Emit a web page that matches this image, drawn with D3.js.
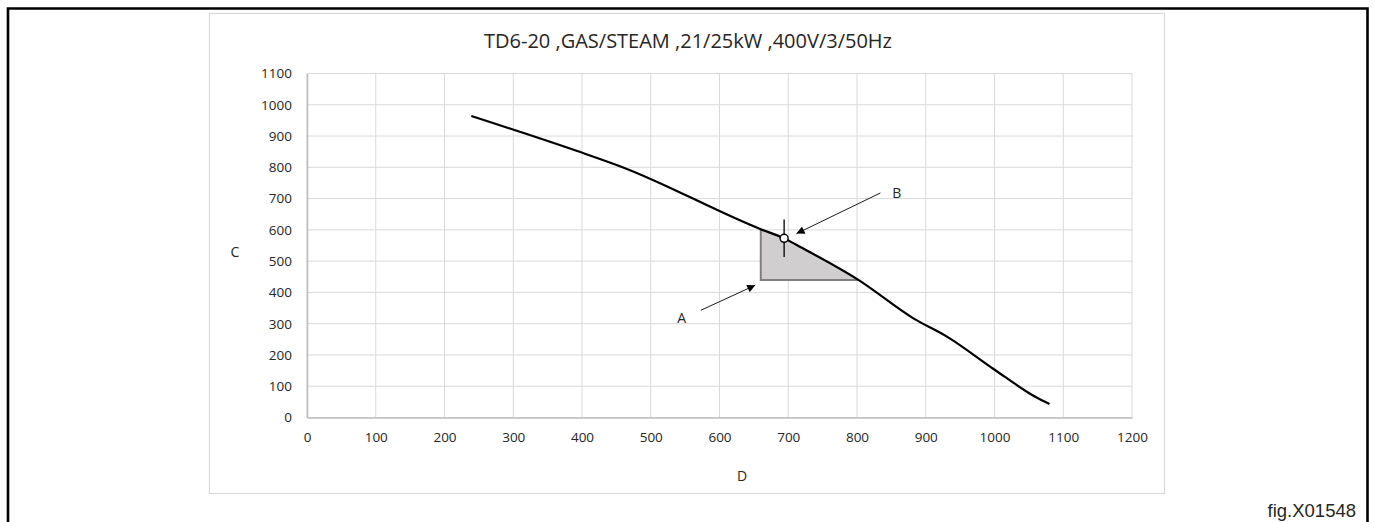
<!DOCTYPE html>
<html>
<head>
<meta charset="utf-8">
<script src="https://cdn.jsdelivr.net/npm/d3@7"></script>
<style>
  body { margin: 0; background: #fff; }
  text { font-family: "Open Sans", sans-serif; fill: #262626; }
</style>
</head>
<body>
<div id="chart"></div>
<script>
const w = 1374;
const h = 522;

const title = "TD6-20 ,GAS/STEAM ,21/25kW ,400V/3/50Hz";
const xTicks = [0, 100, 200, 300, 400, 500, 600, 700, 800, 900, 1000, 1100, 1200];
const yTicks = [0, 100, 200, 300, 400, 500, 600, 700, 800, 900, 1000, 1100];

// curve
const curveD = [239, 393, 457, 660, 694, 711, 802, 882, 932, 998, 1062, 1080];
const curveC = [964, 852, 802, 602, 573, 553, 440, 317, 257, 156, 63, 43];

// shaded working area (A) corners, top edge follows the curve
const shadeD = [660, 660, 802];
const shadeC = [602, 440, 440];

// operating point (B)
const pointD = 694;
const pointC = 573;

const labels = [
  { name: "A", from: [573, 343], to: [652, 423], at: [545, 318] },
  { name: "B", from: [834, 718], to: [712, 588], at: [858, 718] }
];

const svg = d3.select("#chart").append("svg")
  .attr("width", w).attr("height", h);

// outer page frame
svg.append("path")
  .attr("d", "M8,530 L8,8.5 L1367.5,8.5 L1367.5,530")
  .attr("fill", "none").attr("stroke", "#000").attr("stroke-width", 2.6);

// chart box
svg.append("rect")
  .attr("x", 209.5).attr("y", 13.5).attr("width", 955).attr("height", 480)
  .attr("fill", "#fff").attr("stroke", "#d9d9d9").attr("stroke-width", 1.2);

const x = d3.scaleLinear().domain([0, 1200]).range([307, 1132]);
const y = d3.scaleLinear().domain([0, 1100]).range([417.5, 73.5]);

// grid
const grid = svg.append("g");
grid.selectAll(".gx").data(xTicks).enter().append("line")
  .attr("x1", d => x(d)).attr("x2", d => x(d))
  .attr("y1", y(0)).attr("y2", y(1100))
  .attr("stroke", "#d9d9d9").attr("stroke-width", 1);
grid.selectAll(".gy").data(yTicks).enter().append("line")
  .attr("x1", x(0)).attr("x2", x(1200))
  .attr("y1", d => y(d)).attr("y2", d => y(d))
  .attr("stroke", "#d9d9d9").attr("stroke-width", 1);

// axes
const xAxis = svg.append("g").attr("transform", `translate(0,${y(0)})`)
  .call(d3.axisBottom(x).tickValues(xTicks).tickFormat(d3.format("d")).tickSize(0).tickPadding(15));
const yAxis = svg.append("g").attr("transform", `translate(${x(0)},0)`)
  .call(d3.axisLeft(y).tickValues(yTicks).tickFormat(d3.format("d")).tickSize(0).tickPadding(15));
[xAxis, yAxis].forEach(a => {
  a.select(".domain").attr("stroke", "#bfbfbf").attr("stroke-width", 1.6);
  a.selectAll("text").style("font-family", "'Open Sans', sans-serif")
    .style("font-size", "13.5px").attr("fill", "#262626");
});

// title and axis names
svg.append("text").attr("x", 688).attr("y", 48).attr("text-anchor", "middle")
  .style("font-size", "20px").text(title);
svg.append("text").attr("x", 235).attr("y", 257).attr("text-anchor", "middle")
  .style("font-size", "14px").text("C");
svg.append("text").attr("x", 742).attr("y", 481).attr("text-anchor", "middle")
  .style("font-size", "14px").text("D");

// shaded area
const curvePts = curveD.map((d, i) => [d, curveC[i]]);
const topEdge = curvePts.filter(p => p[0] > shadeD[0] && p[0] < shadeD[2]);
const poly = [[shadeD[0], shadeC[0]], [shadeD[1], shadeC[1]], [shadeD[2], shadeC[2]]]
  .concat(topEdge.slice().reverse());
svg.append("path")
  .attr("d", d3.line().x(p => x(p[0])).y(p => y(p[1]))(poly) + "Z")
  .attr("fill", "#d0cece").attr("stroke", "none");
svg.append("path")
  .attr("d", d3.line().x(p => x(p[0])).y(p => y(p[1]))(poly.slice(0, 3)))
  .attr("fill", "none").attr("stroke", "#7f7f7f").attr("stroke-width", 2);

// curve
svg.append("path")
  .datum(curvePts)
  .attr("d", d3.line().x(p => x(p[0])).y(p => y(p[1])).curve(d3.curveMonotoneX))
  .attr("fill", "none").attr("stroke", "#000").attr("stroke-width", 2.2);

// operating point
svg.append("line")
  .attr("x1", x(pointD)).attr("x2", x(pointD))
  .attr("y1", y(pointC + 60)).attr("y2", y(pointC - 60))
  .attr("stroke", "#000").attr("stroke-width", 1.3);
svg.append("circle")
  .attr("cx", x(pointD)).attr("cy", y(pointC)).attr("r", 4)
  .attr("fill", "#fff").attr("stroke", "#000").attr("stroke-width", 1.4);

// arrows
svg.append("defs").append("marker")
  .attr("id", "head").attr("viewBox", "0 0 10 10")
  .attr("refX", 10).attr("refY", 5)
  .attr("markerWidth", 10).attr("markerHeight", 8)
  .attr("markerUnits", "userSpaceOnUse")
  .attr("orient", "auto")
  .append("path").attr("d", "M0,0 L10,5 L0,10 Z").attr("fill", "#000");

labels.forEach(l => {
  svg.append("line")
    .attr("x1", x(l.from[0])).attr("y1", y(l.from[1]))
    .attr("x2", x(l.to[0])).attr("y2", y(l.to[1]))
    .attr("stroke", "#000").attr("stroke-width", 0.9)
    .attr("marker-end", "url(#head)");
  svg.append("text").attr("x", x(l.at[0])).attr("y", y(l.at[1]) + 5)
    .attr("text-anchor", "middle").style("font-size", "14px").text(l.name);
});

svg.append("text").attr("x", 1356).attr("y", 517).attr("text-anchor", "end")
  .style("font-family", "'Liberation Sans', Arial, sans-serif")
  .style("font-size", "18.5px").attr("fill", "#000").text("fig.X01548");
</script>
</body>
</html>
